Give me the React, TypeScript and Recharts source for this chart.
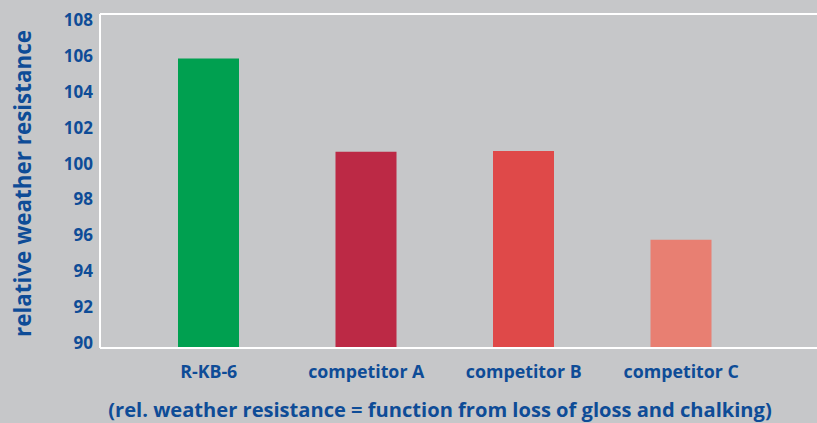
import React from "react";
import { BarChart, Bar, XAxis, YAxis, Cell, ReferenceLine, Label } from "recharts";

const categories = ["R-KB-6", "competitor A", "competitor B", "competitor C"];
const values = [105.85, 100.65, 100.7, 95.75];
const barColors = ["#00a050", "#bc2945", "#df4949", "#e87f72"];
const yTicks = [90, 92, 94, 96, 98, 100, 102, 104, 106, 108];
const yAxisTitle = "relative weather resistance";
const footnote = "(rel. weather resistance = function from loss of gloss and chalking)";

const data = categories.map((name, i) => ({ name, value: values[i] }));

const BLUE = "#0e4c97";
const FONT = "'Open Sans', 'DejaVu Sans', sans-serif";
const Y_MIN = 89.72;
const Y_MAX = 108.33;

export default function App() {
  return (
    <div style={{ position: "absolute", left: 0, top: 0, width: 817, height: 423, background: "#c6c7c9" }}>
      <BarChart
        width={817}
        height={423}
        data={data}
        margin={{ top: 14, right: 0, bottom: 0, left: 0 }}
        barSize={61}
      >
        <XAxis
          dataKey="name"
          axisLine={{ stroke: "#ffffff", strokeWidth: 2 }}
          tickLine={false}
          tickMargin={11}
          height={75}
          padding={{ left: 30, right: 57 }}
          tick={{ fill: BLUE, fontSize: 17.8, fontWeight: 700, fontFamily: FONT }}
          interval={0}
        >
          <Label
            content={() => (
              <text x={440} y={417} textAnchor="middle" fill={BLUE} fontSize={20.1} fontWeight={700} fontFamily={FONT}>
                {footnote}
              </text>
            )}
          />
        </XAxis>
        <YAxis
          type="number"
          domain={[Y_MIN, Y_MAX]}
          ticks={yTicks}
          allowDataOverflow
          width={100}
          axisLine={{ stroke: "#ffffff", strokeWidth: 2 }}
          tickLine={false}
          tickSize={6}
          tickMargin={1}
          tick={{ fill: BLUE, fontSize: 17, fontWeight: 700, fontFamily: FONT }}
        >
          <Label
            content={() => (
              <text
                x={0}
                y={0}
                transform="translate(31,183.5) rotate(-90)"
                textAnchor="middle"
                fill={BLUE}
                fontSize={22.4}
                fontWeight={700}
                fontFamily={FONT}
              >
                {yAxisTitle}
              </text>
            )}
          />
        </YAxis>
        <ReferenceLine y={Y_MAX} stroke="#ffffff" strokeWidth={2} ifOverflow="extendDomain" />
        <Bar dataKey="value" isAnimationActive={false}>
          {data.map((d, i) => (
            <Cell key={d.name} fill={barColors[i]} />
          ))}
        </Bar>
      </BarChart>
    </div>
  );
}
